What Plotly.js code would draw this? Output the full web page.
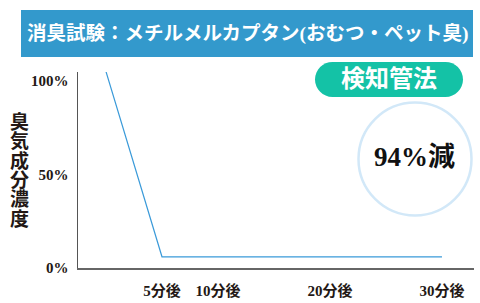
<!DOCTYPE html>
<html>
<head>
<meta charset="utf-8">
<script src="https://cdn.plot.ly/plotly-3.0.1.min.js"></script>
<style>html,body{margin:0;padding:0;background:#fff;}#chart{width:480px;height:303px;}</style>
</head>
<body>
<div id="chart"></div>
<script>
// ---- data ----
const minutes = [0, 5, 10, 20, 30];
const concentration = [105, 6, 6, 6, 6];
const xTickVals = [5, 10, 20, 30];
const xTickText = ['5分後', '10分後', '20分後', '30分後'];
const yTickVals = [0, 50, 100];
const yTickText = ['0%', '50%', '100%'];
const chartTitle = '消臭試験：メチルメルカプタン(おむつ・ペット臭)';
const yTitle = '臭気成分濃度';
const badgeText = '検知管法';
const resultText = '94%減';

// ---- layout helpers (pixel -> paper) ----
const M = {l: 78, r: 6, t: 72, b: 35};
const W = 480, H = 303;
const PW = W - M.l - M.r, PH = H - M.t - M.b;
const px = x => (x - M.l) / PW;
const py = y => (H - M.b - y) / PH;
const FONT = '"Liberation Serif", "Noto Sans CJK JP", serif';

function stadium(x0, y0, x1, y1) {
  const r = (y1 - y0) / 2, k = 0.5523 * r;
  const P = (x, y) => px(x) + ',' + py(y);
  return 'M' + P(x0 + r, y0) + ' L' + P(x1 - r, y0) +
    ' C' + P(x1 - r + k, y0) + ' ' + P(x1, y0 + r - k) + ' ' + P(x1, y0 + r) +
    ' C' + P(x1, y0 + r + k) + ' ' + P(x1 - r + k, y1) + ' ' + P(x1 - r, y1) +
    ' L' + P(x0 + r, y1) +
    ' C' + P(x0 + r - k, y1) + ' ' + P(x0, y0 + r + k) + ' ' + P(x0, y0 + r) +
    ' C' + P(x0, y0 + r - k) + ' ' + P(x0 + r - k, y0) + ' ' + P(x0 + r, y0) + ' Z';
}

const annotations = [
  {xref: 'paper', yref: 'paper', x: px(247), y: py(33.5), text: '<b>' + chartTitle + '</b>',
   showarrow: false, xanchor: 'center', yanchor: 'middle',
   font: {family: FONT, size: 19.5, color: '#ffffff'}},
  {xref: 'paper', yref: 'paper', x: px(389), y: py(79.5), text: '<b>' + badgeText + '</b>',
   showarrow: false, xanchor: 'center', yanchor: 'middle',
   font: {family: FONT, size: 24, color: '#ffffff'}},
  {xref: 'paper', yref: 'paper', x: px(414), y: py(157), text: '<b>' + resultText + '</b>',
   showarrow: false, xanchor: 'center', yanchor: 'middle',
   font: {family: FONT, size: 27, color: '#111111'}}
];
Array.from(yTitle).forEach((ch, i) => {
  annotations.push({xref: 'paper', yref: 'paper', x: px(19), y: py(122 + i * 19.4),
    text: '<b>' + ch + '</b>', showarrow: false, xanchor: 'center', yanchor: 'middle',
    font: {family: FONT, size: 19, color: '#231815'}});
});

const shapes = [
  {type: 'rect', xref: 'paper', yref: 'paper', x0: px(21), x1: px(473), y0: py(57), y1: py(10),
   fillcolor: '#3399cc', line: {width: 0}, layer: 'below'},
  {type: 'path', xref: 'paper', yref: 'paper', path: stadium(315, 62, 463, 97),
   fillcolor: '#14c2a6', line: {width: 0}, layer: 'below'},
  {type: 'circle', xref: 'paper', yref: 'paper', x0: px(358.5), x1: px(471.5), y0: py(215.5), y1: py(102.5),
   fillcolor: 'rgba(0,0,0,0)', line: {color: '#d2e8f8', width: 2.5}, layer: 'below'}
];

const trace = {
  x: minutes, y: concentration, type: 'scatter', mode: 'lines',
  line: {color: '#3a9ad9', width: 1.2}, hoverinfo: 'skip', cliponaxis: true
};

const layout = {
  width: W, height: H, margin: M,
  paper_bgcolor: '#ffffff', plot_bgcolor: '#ffffff', showlegend: false,
  xaxis: {range: [-2.5, 32.86], showgrid: false, zeroline: false, showline: true,
    linecolor: '#666666', linewidth: 1.5, ticks: '', tickvals: xTickVals, ticktext: xTickText,
    ticklabelstandoff: 8, tickfont: {family: FONT, size: 15, color: '#231815', weight: 'bold'}},
  yaxis: {range: [0, 104.8], showgrid: false, zeroline: false, showline: true,
    linecolor: '#555555', linewidth: 1.5, ticks: '', tickvals: yTickVals, ticktext: yTickText,
    ticklabelstandoff: 5, tickfont: {family: FONT, size: 15, color: '#231815', weight: 'bold'}},
  shapes: shapes, annotations: annotations
};

Plotly.newPlot('chart', [trace], layout, {staticPlot: true, displayModeBar: false});
</script>
</body>
</html>
